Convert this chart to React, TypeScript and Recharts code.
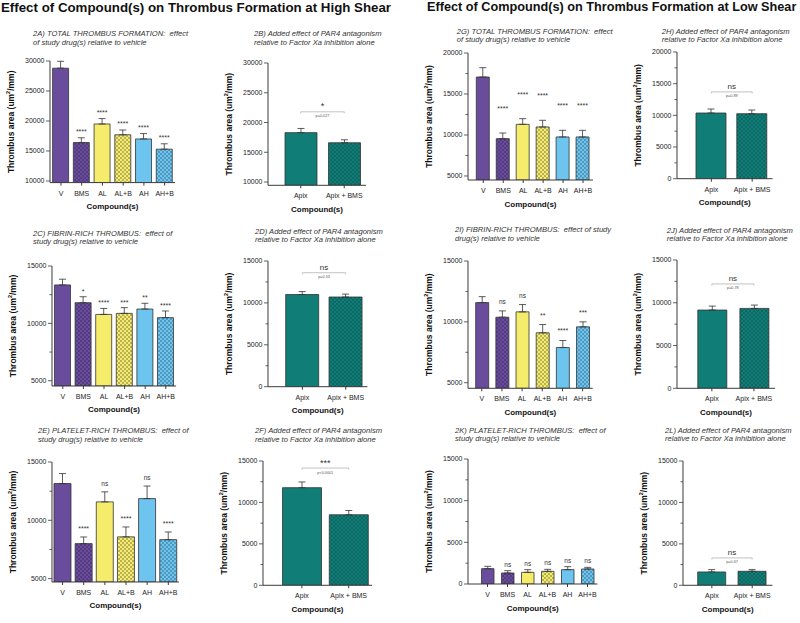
import React from "react";
import { Bar, BarChart, Cell, ErrorBar, LabelList, ReferenceLine, XAxis, YAxis } from "recharts";

const FONT = "'Liberation Sans', Arial, Helvetica, sans-serif";
const AXIS = "#3a3a3a";
const PURPLE = "#6a4c9c";
const YELLOW = "#f6ec6c";
const BLUE = "#6dc4ee";
const TEAL = "#117d77";

// categories
const drugs = ["V", "BMS", "AL", "AL+B", "AH", "AH+B"];
const apixCats = ["Apix", "Apix + BMS"];
const drugFills = ["purple", "purpleDots", "yellow", "yellowDots", "blue", "blueDots"];
const apixFills = ["teal", "tealDots"];

// high shear - total thrombus
const totalHigh = [28800, 16400, 19500, 17700, 17000, 15300];
const totalHighSem = [1150, 800, 900, 800, 900, 900];
const totalHighSig = ["", "****", "****", "****", "****", "****"];
const totalHighApix = [18300, 16600];
const totalHighApixSem = [700, 500];

// high shear - fibrin rich
const fibrinHigh = [13350, 11800, 10780, 10870, 11250, 10500];
const fibrinHighSem = [500, 520, 520, 500, 500, 580];
const fibrinHighSig = ["", "*", "****", "***", "**", "****"];
const fibrinHighApix = [11000, 10700];
const fibrinHighApixSem = [350, 350];

// high shear - platelet rich
const plateletHigh = [13150, 8000, 11580, 8580, 11860, 8340];
const plateletHighSem = [860, 570, 860, 850, 1080, 660];
const plateletHighSig = ["", "****", "ns", "****", "ns", "****"];
const plateletHighApix = [11780, 8510];
const plateletHighApixSem = [690, 520];

// low shear - total thrombus
const totalLow = [17070, 9550, 11300, 10980, 9760, 9760];
const totalLowSem = [1140, 690, 690, 810, 810, 810];
const totalLowSig = ["", "****", "****", "****", "****", "****"];
const totalLowApix = [10370, 10260];
const totalLowApixSem = [630, 580];

// low shear - fibrin rich
const fibrinLow = [11580, 10380, 10820, 9100, 7890, 9590];
const fibrinLowSem = [490, 520, 600, 680, 580, 410];
const fibrinLowSig = ["", "ns", "ns", "**", "****", "***"];
const fibrinLowApix = [9150, 9340];
const fibrinLowApixSem = [460, 390];

// low shear - platelet rich
const plateletLow = [1840, 1320, 1400, 1520, 1720, 1800];
const plateletLowSem = [280, 280, 320, 240, 360, 200];
const plateletLowSig = ["", "ns", "ns", "ns", "ns", "ns"];
const plateletLowApix = [1610, 1690];
const plateletLowApixSem = [280, 200];

// tick labels
const ticks10to30 = [10000, 15000, 20000, 25000, 30000];
const ticks5to15 = [5000, 10000, 15000];
const ticks0to15 = [0, 5000, 10000, 15000];
const ticks5to20 = [5000, 10000, 15000, 20000];
const ticks0to20 = [0, 5000, 10000, 15000, 20000];
const minor5to15 = [7500, 12500];
const minor0to15 = [2500, 7500, 12500];
const minor5to20 = [7500, 12500, 17500];
const minor0to20 = [2500, 7500, 12500, 17500];

const YW = 48;
const XH = 34;
const MT = 6;
const MR = 4;
const TICK_SIZE = 4;
const TICK_MARGIN = 1;

function fillFor(id: string, key: string) {
  if (key === "purple") return PURPLE;
  if (key === "yellow") return YELLOW;
  if (key === "blue") return BLUE;
  if (key === "teal") return TEAL;
  return `url(#${id}-${key})`;
}

function Dots({ id, bg, dot }: { id: string; bg: string; dot: string }) {
  return (
    <pattern id={id} width="4" height="4" patternUnits="userSpaceOnUse">
      <rect width="4" height="4" fill={bg} />
      <circle cx="1" cy="1" r="0.7" fill={dot} />
      <circle cx="3" cy="3" r="0.7" fill={dot} />
    </pattern>
  );
}

function YTick(props: any) {
  const { x, y, payload, major } = props;
  const ax = x + TICK_SIZE + TICK_MARGIN;
  const isMajor = major.includes(payload.value);
  return (
    <g>
      <line x1={ax - (isMajor ? 4 : 2.5)} x2={ax} y1={y} y2={y} stroke={AXIS} strokeWidth={0.8} />
      {isMajor && (
        <text x={ax - 5.5} y={y} dy="0.35em" textAnchor="end" fontSize={7} fill="#222">
          {payload.value}
        </text>
      )}
    </g>
  );
}

function YLabel(props: any) {
  const vb = props.viewBox;
  const cx = vb.x + vb.width - 39;
  const cy = vb.y + vb.height / 2;
  return (
    <text
      x={cx}
      y={cy}
      transform={`rotate(-90 ${cx} ${cy})`}
      textAnchor="middle"
      dominantBaseline="central"
      fontSize={8.5}
      fontWeight="bold"
      fill="#111"
    >
      Thrombus area (um
      <tspan dy={-3} fontSize={5.5}>2</tspan>
      <tspan dy={3}>/mm)</tspan>
    </text>
  );
}

function XLabel(props: any) {
  const vb = props.viewBox;
  return (
    <text
      x={vb.x + vb.width / 2}
      y={vb.y + 24}
      textAnchor="middle"
      dominantBaseline="central"
      fontSize={8}
      fontWeight="bold"
      fill="#111"
    >
      Compound(s)
    </text>
  );
}

type Bracket = { y: number; sig: string; p: string };

type PanelProps = {
  id: string;
  title: string[];
  titleX: number;
  titleY: number;
  cats: string[];
  fills: string[];
  values: number[];
  sem: number[];
  sig?: string[];
  domain: [number, number];
  major: number[];
  minor: number[];
  axisX: number;
  plotRight: number;
  topPx: number;
  basePx: number;
  padLeft: number;
  barSize: number;
  sigGap?: number;
  bracket?: Bracket;
};

function Panel(p: PanelProps) {
  const data = p.cats.map((name, i) => ({
    name,
    value: p.values[i],
    err: [0, p.sem[i]],
    sig: p.sig ? p.sig[i] : "",
  }));
  const left = p.axisX - YW;
  const top = p.topPx - MT;
  const width = p.plotRight - left + MR;
  const height = MT + (p.basePx - p.topPx) + XH;
  const ticks = [...p.major, ...p.minor].sort((a, b) => a - b);
  const yMin = p.domain[0];
  const gap = p.sigGap ?? 4;

  const sigContent = (lp: any) => {
    const d = data[lp.index];
    if (!d || !d.sig) return null;
    const h = Math.abs(lp.height);
    const barTop = Math.min(lp.y, lp.y + lp.height);
    const ppu = h / (d.value - yMin);
    const ty = barTop - d.err[1] * ppu - gap;
    return (
      <text
        x={lp.x + lp.width / 2}
        y={ty}
        textAnchor="middle"
        fontSize={d.sig === "ns" ? 6.5 : 7}
        fill="#333"
      >
        {d.sig}
      </text>
    );
  };

  const bracketShape = (sp: any) => {
    const b = p.bracket as Bracket;
    const { x1, x2, y1 } = sp;
    const mid = (x1 + x2) / 2;
    return (
      <g>
        <path
          d={`M${x1},${y1 + 1.5}V${y1}H${x2}V${y1 + 1.5}`}
          stroke="#9a9a9a"
          strokeWidth={0.6}
          fill="none"
        />
        <text x={mid} y={y1 - 2.5} textAnchor="middle" fontSize={b.sig === "ns" ? 8 : 9} fill="#333">
          {b.sig}
        </text>
        <text x={mid} y={y1 + 5.5} textAnchor="middle" fontSize={3.8} fill="#555">
          {b.p}
        </text>
      </g>
    );
  };

  return (
    <>
      <div
        style={{
          position: "absolute",
          left: p.titleX,
          top: p.titleY,
          fontSize: 7.6,
          lineHeight: "8.5px",
          fontStyle: "italic",
          color: "#333",
          whiteSpace: "pre",
        }}
      >
        {p.title[0]}
        <br />
        {p.title[1]}
      </div>
      <div style={{ position: "absolute", left, top }}>
        <BarChart
          width={width}
          height={height}
          data={data}
          margin={{ top: MT, right: MR, left: 0, bottom: 0 }}
          barSize={p.barSize}
        >
          <defs>
            <Dots id={`${p.id}-purpleDots`} bg={PURPLE} dot="#2c1c4c" />
            <Dots id={`${p.id}-yellowDots`} bg={YELLOW} dot="#4a4a30" />
            <Dots id={`${p.id}-blueDots`} bg={BLUE} dot="#1f4a66" />
            <Dots id={`${p.id}-tealDots`} bg={TEAL} dot="#06403c" />
          </defs>
          <XAxis
            dataKey="name"
            type="category"
            interval={0}
            height={XH}
            padding={{ left: p.padLeft, right: 0 }}
            tick={{ fontSize: 7, fill: "#222" }}
            tickSize={3}
            tickMargin={5}
            stroke={AXIS}
            label={XLabel}
          />
          <YAxis
            type="number"
            domain={p.domain}
            allowDataOverflow
            ticks={ticks}
            interval={0}
            width={YW}
            tickLine={false}
            tickSize={TICK_SIZE}
            tickMargin={TICK_MARGIN}
            stroke={AXIS}
            tick={(tp: any) => <YTick {...tp} major={p.major} />}
            label={YLabel}
          />
          <Bar dataKey="value" isAnimationActive={false} stroke="#333" strokeWidth={0.8}>
            {data.map((d, i) => (
              <Cell key={d.name} fill={fillFor(p.id, p.fills[i])} />
            ))}
            <ErrorBar
              dataKey="err"
              direction="y"
              width={3.5}
              stroke="#333"
              strokeWidth={0.8}
              isAnimationActive={false}
            />
            {p.sig && <LabelList dataKey="sig" content={sigContent} />}
          </Bar>
          {p.bracket && (
            <ReferenceLine
              segment={[
                { x: p.cats[0], y: p.bracket.y },
                { x: p.cats[1], y: p.bracket.y },
              ]}
              ifOverflow="visible"
              shape={bracketShape}
            />
          )}
        </BarChart>
      </div>
    </>
  );
}

const addedTitle = (tag: string) => [`${tag}) Added effect of PAR4 antagonism`, "relative to Factor Xa inhibition alone"];

const headStyle: React.CSSProperties = {
  position: "absolute",
  top: 0,
  fontWeight: "bold",
  lineHeight: "15px",
  whiteSpace: "nowrap",
  color: "#111",
};

export default function App() {
  return (
    <div
      style={{
        position: "absolute",
        left: 0,
        top: 0,
        width: 800,
        height: 623,
        background: "#fff",
        fontFamily: FONT,
        overflow: "hidden",
      }}
    >
      <div style={{ ...headStyle, left: 1, fontSize: 13.3 }}>
        Effect of Compound(s) on Thrombus Formation at High Shear
      </div>
      <div style={{ ...headStyle, left: 427, fontSize: 12.7 }}>
        Effect of Compound(s) on Thrombus Formation at Low Shear
      </div>

      <Panel
        id="p2a"
        title={["2A) TOTAL THROMBUS FORMATION:  effect", "of study drug(s) relative to vehicle"]}
        titleX={33}
        titleY={30}
        cats={drugs}
        fills={drugFills}
        values={totalHigh}
        sem={totalHighSem}
        sig={totalHighSig}
        domain={[9730, 30000]}
        major={ticks10to30}
        minor={[]}
        axisX={50}
        plotRight={175}
        topPx={60.7}
        basePx={182.3}
        padLeft={0.6}
        barSize={16}
        sigGap={4}
      />
      <Panel
        id="p2b"
        title={addedTitle("2B")}
        titleX={254}
        titleY={30}
        cats={apixCats}
        fills={apixFills}
        values={totalHighApix}
        sem={totalHighApixSem}
        domain={[9450, 30000]}
        major={ticks10to30}
        minor={[]}
        axisX={268.3}
        plotRight={366.3}
        topPx={62.7}
        basePx={185}
        padLeft={11}
        barSize={32}
        bracket={{ y: 21800, sig: "*", p: "p=0.027" }}
      />
      <Panel
        id="p2c"
        title={["2C) FIBRIN-RICH THROMBUS:  effect of", "study drug(s) relative to vehicle"]}
        titleX={33}
        titleY={229.5}
        cats={drugs}
        fills={drugFills}
        values={fibrinHigh}
        sem={fibrinHighSem}
        sig={fibrinHighSig}
        domain={[4540, 15000]}
        major={ticks5to15}
        minor={minor5to15}
        axisX={51.7}
        plotRight={175.8}
        topPx={266}
        basePx={386}
        padLeft={0.5}
        barSize={16}
        sigGap={3}
      />
      <Panel
        id="p2d"
        title={addedTitle("2D")}
        titleX={255}
        titleY={227.5}
        cats={apixCats}
        fills={apixFills}
        values={fibrinHighApix}
        sem={fibrinHighApixSem}
        domain={[0, 15000]}
        major={ticks0to15}
        minor={minor0to15}
        axisX={268.3}
        plotRight={367.7}
        topPx={261}
        basePx={386.7}
        padLeft={12.7}
        barSize={33}
        bracket={{ y: 13600, sig: "ns", p: "p=0.53" }}
      />
      <Panel
        id="p2e"
        title={["2E) PLATELET-RICH THROMBUS:  effect of", "study drug(s) relative to vehicle"]}
        titleX={38}
        titleY={427}
        cats={drugs}
        fills={drugFills}
        values={plateletHigh}
        sem={plateletHighSem}
        sig={plateletHighSig}
        domain={[4710, 15000]}
        major={ticks5to15}
        minor={minor5to15}
        axisX={51.7}
        plotRight={178.6}
        topPx={461.7}
        basePx={581.7}
        padLeft={0}
        barSize={17}
        sigGap={6}
      />
      <Panel
        id="p2f"
        title={addedTitle("2F")}
        titleX={255}
        titleY={427}
        cats={apixCats}
        fills={apixFills}
        values={plateletHighApix}
        sem={plateletHighApixSem}
        domain={[0, 15000]}
        major={ticks0to15}
        minor={minor0to15}
        axisX={263.3}
        plotRight={372.4}
        topPx={460.7}
        basePx={585}
        padLeft={15.5}
        barSize={39}
        bracket={{ y: 14150, sig: "***", p: "p<0.0001" }}
      />
      <Panel
        id="p2g"
        title={["2G) TOTAL THROMBUS FORMATION:  effect", "of study drug(s) relative to vehicle"]}
        titleX={456.7}
        titleY={27.5}
        cats={drugs}
        fills={drugFills}
        values={totalLow}
        sem={totalLowSem}
        sig={totalLowSig}
        domain={[4510, 20000]}
        major={ticks5to20}
        minor={minor5to20}
        axisX={468}
        plotRight={593}
        topPx={52.7}
        basePx={179.7}
        padLeft={5.3}
        barSize={13}
        sigGap={22}
      />
      <Panel
        id="p2h"
        title={addedTitle("2H")}
        titleX={661.7}
        titleY={27.5}
        cats={apixCats}
        fills={apixFills}
        values={totalLowApix}
        sem={totalLowApixSem}
        domain={[0, 20000]}
        major={ticks0to20}
        minor={minor0to20}
        axisX={677.3}
        plotRight={772.9}
        topPx={52.3}
        basePx={179}
        padLeft={14}
        barSize={30}
        bracket={{ y: 13700, sig: "ns", p: "p=0.89" }}
      />
      <Panel
        id="p2i"
        title={["2I) FIBRIN-RICH THROMBUS:  effect of study", "drug(s) relative to vehicle"]}
        titleX={455}
        titleY={226}
        cats={drugs}
        fills={drugFills}
        values={fibrinLow}
        sem={fibrinLowSem}
        sig={fibrinLowSig}
        domain={[4540, 15000]}
        major={ticks5to15}
        minor={minor5to15}
        axisX={468.3}
        plotRight={593}
        topPx={261}
        basePx={388.3}
        padLeft={3.7}
        barSize={13}
        sigGap={7}
      />
      <Panel
        id="p2j"
        title={addedTitle("2J")}
        titleX={666.7}
        titleY={226.5}
        cats={apixCats}
        fills={apixFills}
        values={fibrinLowApix}
        sem={fibrinLowApixSem}
        domain={[0, 15000]}
        major={ticks0to15}
        minor={minor0to15}
        axisX={677.3}
        plotRight={775.3}
        topPx={260}
        basePx={388.3}
        padLeft={13.8}
        barSize={29}
        bracket={{ y: 12200, sig: "ns", p: "p=0.78" }}
      />
      <Panel
        id="p2k"
        title={["2K) PLATELET-RICH THROMBUS:  effect of", "study drug(s) relative to vehicle"]}
        titleX={455}
        titleY={426.5}
        cats={drugs}
        fills={drugFills}
        values={plateletLow}
        sem={plateletLowSem}
        sig={plateletLowSig}
        domain={[0, 15000]}
        major={ticks0to15}
        minor={minor0to15}
        axisX={468.3}
        plotRight={597.8}
        topPx={459.3}
        basePx={584.3}
        padLeft={9.5}
        barSize={12.5}
        sigGap={4}
      />
      <Panel
        id="p2l"
        title={addedTitle("2L")}
        titleX={665}
        titleY={426.5}
        cats={apixCats}
        fills={apixFills}
        values={plateletLowApix}
        sem={plateletLowApixSem}
        domain={[0, 15000]}
        major={ticks0to15}
        minor={minor0to15}
        axisX={683.3}
        plotRight={772.7}
        topPx={460.7}
        basePx={585}
        padLeft={8.7}
        barSize={28}
        bracket={{ y: 3300, sig: "ns", p: "p=0.67" }}
      />
    </div>
  );
}
